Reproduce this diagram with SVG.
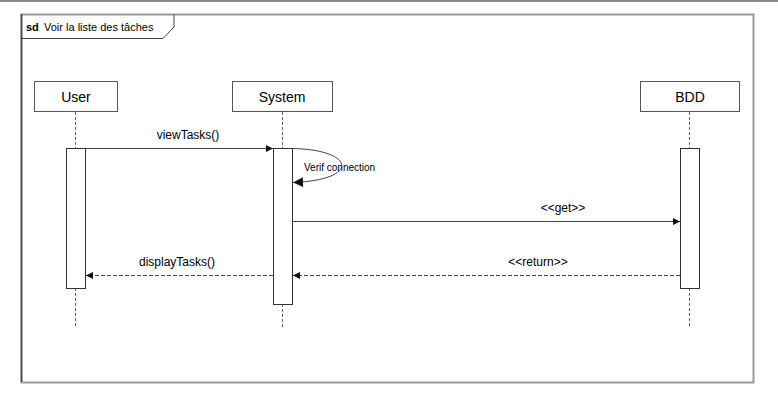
<svg xmlns="http://www.w3.org/2000/svg" width="778" height="404" viewBox="0 0 778 404">
  <style>
    text { font-family: "Liberation Sans", Arial, sans-serif; fill: #000; }
    .head { fill: #fff; stroke: #555; stroke-width: 1; }
    .name { font-size: 14px; text-anchor: middle; }
    .life { stroke: #666; stroke-width: 1; stroke-dasharray: 3,2; fill: none; }
    .act { fill: #fff; stroke: #333; stroke-width: 1; }
    .msg { stroke: #444; stroke-width: 1; fill: none; }
    .ret { stroke: #444; stroke-width: 1; fill: none; stroke-dasharray: 4,2; }
    .lbl { font-size: 12px; text-anchor: middle; }
  </style>
  <defs>
    <marker id="arrow" viewBox="0 0 10 10" refX="10" refY="5" markerWidth="16" markerHeight="10" markerUnits="userSpaceOnUse" orient="auto">
      <path d="M0,0 L10,5 L0,10 z" fill="#111"/>
    </marker>
    <marker id="arrowSmall" viewBox="0 0 10 10" refX="10" refY="5" markerWidth="8" markerHeight="7" markerUnits="userSpaceOnUse" orient="auto">
      <path d="M0,0 L10,5 L0,10 z" fill="#111"/>
    </marker>
  </defs>

  <rect width="778" height="404" fill="#fff"/>
  <line x1="0" y1="1" x2="778" y2="1" stroke="#888" stroke-width="2"/>

  <!-- sd frame -->
  <g id="frame">
    <rect x="21.5" y="14.5" width="732" height="368" fill="none" stroke="#999" stroke-width="2"/>
    <line x1="21.5" y1="14" x2="21.5" y2="382" stroke="#444" stroke-width="1.5"/>
    <path d="M21.5,38.5 L163,38.5 L174,27 L174,14.5" fill="none" stroke="#444" stroke-width="1"/>
    <text x="26" y="31" font-size="11" font-weight="bold">sd</text>
    <text x="44" y="31" font-size="11">Voir la liste des tâches</text>
  </g>

  <!-- lifelines -->
  <g id="user">
    <rect class="head" x="34.5" y="81.5" width="83" height="30"/>
    <text class="name" x="76" y="102">User</text>
    <line class="life" x1="75.5" y1="112" x2="75.5" y2="148"/>
    <line class="life" x1="75.5" y1="288" x2="75.5" y2="328"/>
    <rect class="act" x="66.5" y="148.5" width="19" height="140"/>
  </g>

  <g id="system">
    <rect class="head" x="232.5" y="81.5" width="100" height="30"/>
    <text class="name" x="282" y="102">System</text>
    <line class="life" x1="282.5" y1="112" x2="282.5" y2="148"/>
    <line class="life" x1="282.5" y1="304" x2="282.5" y2="328"/>
    <rect class="act" x="273.5" y="148.5" width="19" height="156"/>
  </g>

  <g id="bdd">
    <rect class="head" x="640.5" y="81.5" width="99" height="30"/>
    <text class="name" x="690" y="102">BDD</text>
    <line class="life" x1="689.5" y1="112" x2="689.5" y2="148"/>
    <line class="life" x1="689.5" y1="288" x2="689.5" y2="328"/>
    <rect class="act" x="680.5" y="148.5" width="19" height="140"/>
  </g>

  <!-- messages -->
  <g id="connectors">
    <line class="msg" x1="86" y1="148.5" x2="273" y2="148.5" marker-end="url(#arrowSmall)"/>
    <text class="lbl" x="188" y="139">viewTasks()</text>

    <path class="msg" d="M293,148.5 C356,150 360,180 293,182.5" marker-end="url(#arrow)"/>
    <text x="304" y="171" font-size="10">Verif connection</text>

    <line class="msg" x1="293" y1="221.5" x2="680" y2="221.5" marker-end="url(#arrowSmall)"/>
    <text class="lbl" x="563" y="212">&lt;&lt;get&gt;&gt;</text>

    <line class="ret" x1="680" y1="275.5" x2="293" y2="275.5" marker-end="url(#arrowSmall)"/>
    <text class="lbl" x="538" y="266">&lt;&lt;return&gt;&gt;</text>

    <line class="ret" x1="273" y1="275.5" x2="86" y2="275.5" marker-end="url(#arrowSmall)"/>
    <text class="lbl" x="177" y="266">displayTasks()</text>
  </g>
</svg>
